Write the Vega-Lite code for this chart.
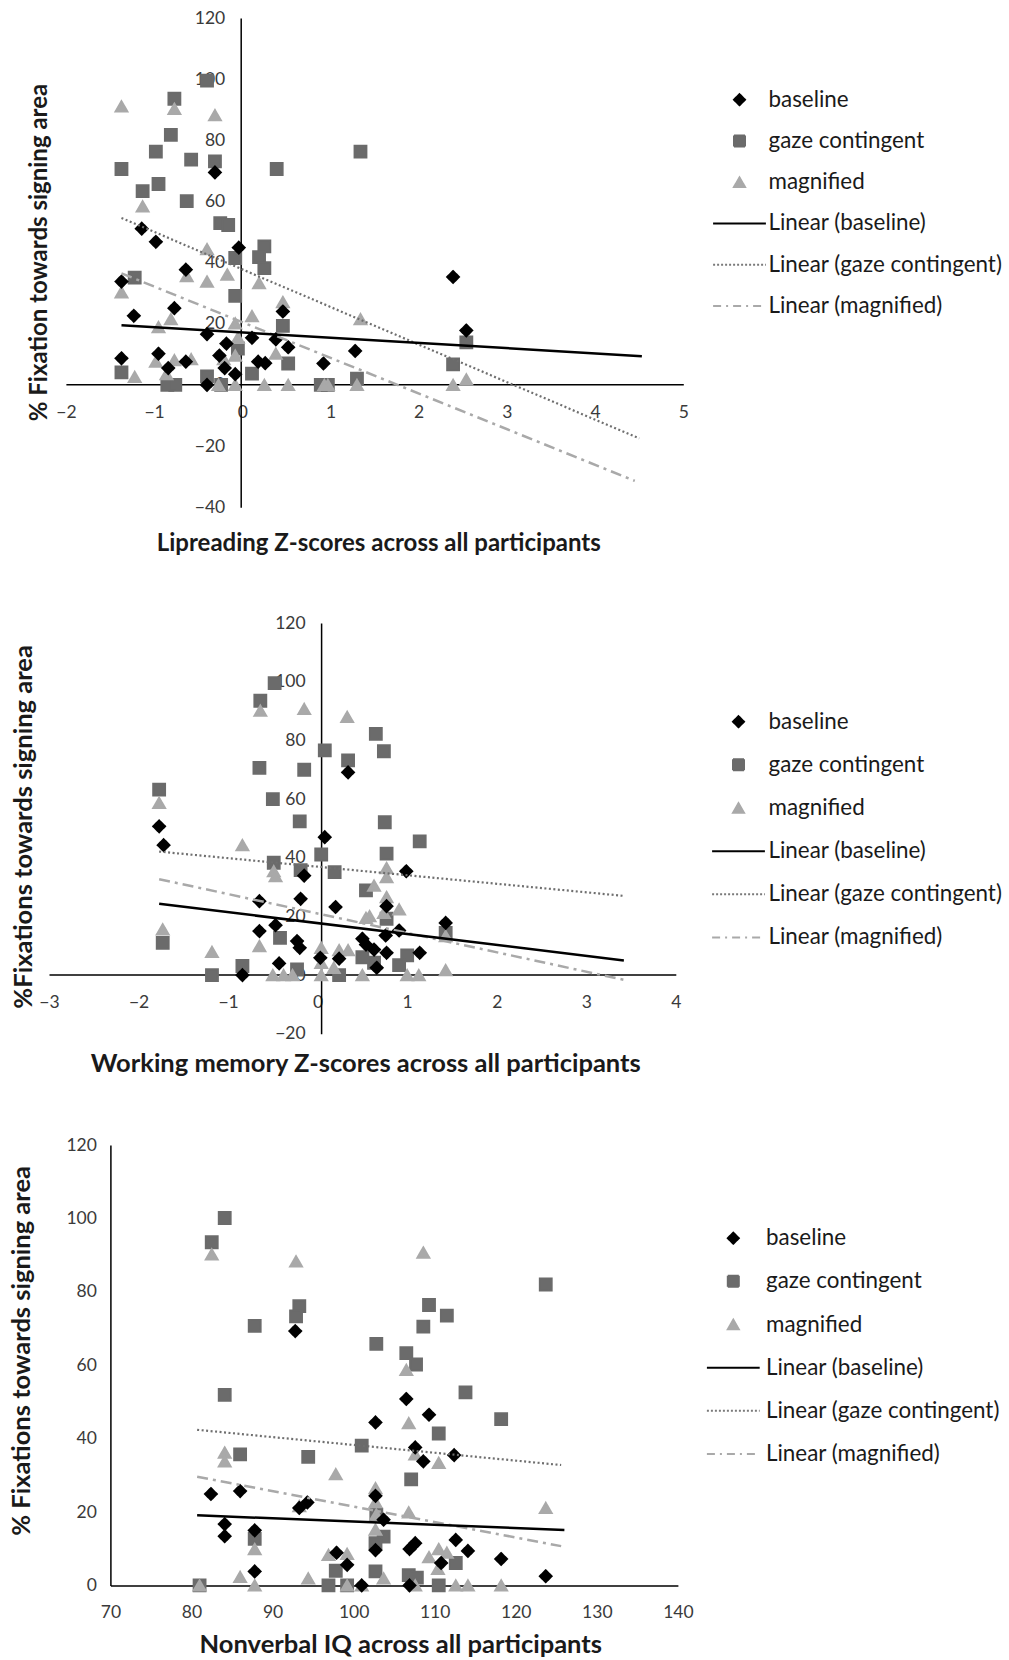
{
  "$schema": "https://vega.github.io/schema/vega-lite/v6.json",
  "autosize": {"type": "pad"},
  "padding": {"left": 9, "top": 9, "right": 0, "bottom": 0},
  "background": "white",
  "config": {
    "view": {"stroke": null},
    "font": "Lato",
    "axis": {"labelFont": "Lato", "labelFontSize": 17.5, "labelColor": "#3a3a3a", "titleFont": "Lato", "titleFontWeight": "bold", "titleColor": "#1a1a1a", "ticks": false, "grid": false, "domainColor": "#000000", "domainWidth": 1.5, "labelFlush": false, "labelOverlap": false},
    "legend": {"title": null, "orient": "none", "symbolSize": 121, "labelFont": "Lato", "labelFontSize": 22.4, "labelColor": "#1a1a1a", "padding": 0, "symbolStrokeWidth": 2, "symbolOpacity": 1, "labelLimit": 0}
  },
  "datasets": {
    "p1": [
      {"x": -0.40, "y": 99.5, "series": "gaze contingent"}, {"x": -0.77, "y": 93.6, "series": "gaze contingent"}, {"x": -0.81, "y": 81.8, "series": "gaze contingent"}, {"x": -0.98, "y": 76.3, "series": "gaze contingent"}, {"x": -0.58, "y": 73.7, "series": "gaze contingent"}, {"x": -0.31, "y": 73.1, "series": "gaze contingent"}, {"x": -1.37, "y": 70.6, "series": "gaze contingent"}, {"x": 0.39, "y": 70.6, "series": "gaze contingent"}, {"x": 1.34, "y": 76.3, "series": "gaze contingent"}, {"x": -0.95, "y": 65.7, "series": "gaze contingent"}, {"x": -1.13, "y": 63.4, "series": "gaze contingent"}, {"x": -0.63, "y": 60.1, "series": "gaze contingent"}, {"x": -0.25, "y": 52.9, "series": "gaze contingent"}, {"x": -0.16, "y": 52.3, "series": "gaze contingent"}, {"x": 0.25, "y": 45.3, "series": "gaze contingent"}, {"x": 0.19, "y": 41.8, "series": "gaze contingent"}, {"x": -0.08, "y": 41.5, "series": "gaze contingent"}, {"x": 0.25, "y": 38.2, "series": "gaze contingent"}, {"x": -1.22, "y": 35.1, "series": "gaze contingent"}, {"x": -0.08, "y": 29.1, "series": "gaze contingent"}, {"x": 0.46, "y": 19.3, "series": "gaze contingent"}, {"x": 2.54, "y": 13.9, "series": "gaze contingent"}, {"x": 2.39, "y": 6.7, "series": "gaze contingent"}, {"x": -1.37, "y": 4.1, "series": "gaze contingent"}, {"x": -0.40, "y": 2.8, "series": "gaze contingent"}, {"x": 0.11, "y": 3.7, "series": "gaze contingent"}, {"x": 0.52, "y": 7.0, "series": "gaze contingent"}, {"x": -0.05, "y": 11.9, "series": "gaze contingent"}, {"x": -0.85, "y": 0, "series": "gaze contingent"}, {"x": -0.76, "y": 0, "series": "gaze contingent"}, {"x": -0.24, "y": 0, "series": "gaze contingent"}, {"x": 0.89, "y": 0, "series": "gaze contingent"}, {"x": 0.97, "y": 0, "series": "gaze contingent"}, {"x": 1.30, "y": 2.0, "series": "gaze contingent"},
      {"x": -1.37, "y": 91.1, "series": "magnified"}, {"x": -0.77, "y": 90.3, "series": "magnified"}, {"x": -0.31, "y": 88.2, "series": "magnified"}, {"x": -1.13, "y": 58.4, "series": "magnified"}, {"x": -0.40, "y": 44.4, "series": "magnified"}, {"x": -0.17, "y": 36.1, "series": "magnified"}, {"x": -0.63, "y": 35.6, "series": "magnified"}, {"x": -0.40, "y": 33.8, "series": "magnified"}, {"x": 0.19, "y": 33.3, "series": "magnified"}, {"x": -1.37, "y": 30.3, "series": "magnified"}, {"x": 0.46, "y": 27.1, "series": "magnified"}, {"x": -0.81, "y": 21.5, "series": "magnified"}, {"x": 0.11, "y": 22.5, "series": "magnified"}, {"x": -0.08, "y": 20.1, "series": "magnified"}, {"x": 1.34, "y": 21.5, "series": "magnified"}, {"x": -0.95, "y": 18.9, "series": "magnified"}, {"x": 0.38, "y": 10.2, "series": "magnified"}, {"x": -0.05, "y": 15.4, "series": "magnified"}, {"x": -0.98, "y": 7.6, "series": "magnified"}, {"x": -0.77, "y": 8.1, "series": "magnified"}, {"x": -0.58, "y": 8.4, "series": "magnified"}, {"x": -0.21, "y": 8.4, "series": "magnified"}, {"x": -0.08, "y": 9.6, "series": "magnified"}, {"x": -1.22, "y": 2.6, "series": "magnified"}, {"x": -0.86, "y": 3.5, "series": "magnified"}, {"x": -0.27, "y": 0, "series": "magnified"}, {"x": -0.08, "y": 0, "series": "magnified"}, {"x": 0.25, "y": 0, "series": "magnified"}, {"x": 0.52, "y": 0, "series": "magnified"}, {"x": 0.97, "y": 0, "series": "magnified"}, {"x": 1.30, "y": 0, "series": "magnified"}, {"x": 2.39, "y": 0, "series": "magnified"}, {"x": 2.54, "y": 1.8, "series": "magnified"}, {"x": 0.93, "y": 0, "series": "magnified"},
      {"x": -0.31, "y": 69.5, "series": "baseline"}, {"x": -1.14, "y": 51.1, "series": "baseline"}, {"x": -0.98, "y": 46.8, "series": "baseline"}, {"x": -0.04, "y": 44.9, "series": "baseline"}, {"x": -0.64, "y": 37.7, "series": "baseline"}, {"x": -1.37, "y": 33.8, "series": "baseline"}, {"x": 2.39, "y": 35.3, "series": "baseline"}, {"x": -0.77, "y": 25.1, "series": "baseline"}, {"x": -1.23, "y": 22.6, "series": "baseline"}, {"x": 0.46, "y": 24.0, "series": "baseline"}, {"x": 2.54, "y": 17.8, "series": "baseline"}, {"x": -0.40, "y": 16.6, "series": "baseline"}, {"x": 0.11, "y": 15.4, "series": "baseline"}, {"x": 0.38, "y": 14.9, "series": "baseline"}, {"x": -0.18, "y": 13.5, "series": "baseline"}, {"x": 0.52, "y": 12.3, "series": "baseline"}, {"x": 1.28, "y": 11.1, "series": "baseline"}, {"x": -1.37, "y": 8.7, "series": "baseline"}, {"x": -0.95, "y": 10.2, "series": "baseline"}, {"x": -0.26, "y": 9.6, "series": "baseline"}, {"x": 0.18, "y": 7.6, "series": "baseline"}, {"x": 0.26, "y": 7.1, "series": "baseline"}, {"x": 0.92, "y": 7.0, "series": "baseline"}, {"x": -0.20, "y": 5.5, "series": "baseline"}, {"x": -0.84, "y": 5.5, "series": "baseline"}, {"x": -0.08, "y": 3.5, "series": "baseline"}, {"x": -0.40, "y": 0, "series": "baseline"}, {"x": -0.64, "y": 7.6, "series": "baseline"}
    ],
    "l1": [
      {"x": -1.37, "y": 19.5, "series": "Linear (baseline)"}, {"x": 4.53, "y": 9.4, "series": "Linear (baseline)"},
      {"x": -1.37, "y": 54.6, "series": "Linear (gaze contingent)"}, {"x": 4.50, "y": -17.5, "series": "Linear (gaze contingent)"},
      {"x": -1.37, "y": 36.5, "series": "Linear (magnified)"}, {"x": 4.45, "y": -31.4, "series": "Linear (magnified)"}
    ],
    "p2": [
      {"x": -0.48, "y": 99.5, "series": "gaze contingent"}, {"x": -0.64, "y": 93.5, "series": "gaze contingent"}, {"x": -0.65, "y": 70.6, "series": "gaze contingent"}, {"x": -0.15, "y": 70.0, "series": "gaze contingent"}, {"x": 0.08, "y": 76.6, "series": "gaze contingent"}, {"x": 0.34, "y": 73.2, "series": "gaze contingent"}, {"x": 0.65, "y": 82.2, "series": "gaze contingent"}, {"x": 0.74, "y": 76.3, "series": "gaze contingent"}, {"x": -1.77, "y": 63.2, "series": "gaze contingent"}, {"x": -0.50, "y": 60.0, "series": "gaze contingent"}, {"x": -0.20, "y": 52.4, "series": "gaze contingent"}, {"x": 0.75, "y": 52.1, "series": "gaze contingent"}, {"x": 1.14, "y": 45.6, "series": "gaze contingent"}, {"x": 0.04, "y": 41.1, "series": "gaze contingent"}, {"x": 0.77, "y": 41.4, "series": "gaze contingent"}, {"x": -0.49, "y": 38.3, "series": "gaze contingent"}, {"x": -0.19, "y": 35.8, "series": "gaze contingent"}, {"x": 0.19, "y": 35.1, "series": "gaze contingent"}, {"x": 0.54, "y": 28.9, "series": "gaze contingent"}, {"x": 0.77, "y": 19.2, "series": "gaze contingent"}, {"x": 1.43, "y": 14.4, "series": "gaze contingent"}, {"x": -1.73, "y": 11.0, "series": "gaze contingent"}, {"x": -0.42, "y": 12.7, "series": "gaze contingent"}, {"x": 0.50, "y": 6.1, "series": "gaze contingent"}, {"x": 0.63, "y": 4.2, "series": "gaze contingent"}, {"x": 1.00, "y": 6.7, "series": "gaze contingent"}, {"x": 0.91, "y": 3.4, "series": "gaze contingent"}, {"x": -0.84, "y": 3.1, "series": "gaze contingent"}, {"x": -1.18, "y": 0, "series": "gaze contingent"}, {"x": -0.23, "y": 1.9, "series": "gaze contingent"}, {"x": 0.24, "y": 0, "series": "gaze contingent"},
      {"x": -0.64, "y": 90.1, "series": "magnified"}, {"x": -0.15, "y": 90.7, "series": "magnified"}, {"x": 0.33, "y": 88.0, "series": "magnified"}, {"x": -1.77, "y": 58.7, "series": "magnified"}, {"x": -0.84, "y": 44.3, "series": "magnified"}, {"x": -0.49, "y": 35.4, "series": "magnified"}, {"x": -0.47, "y": 33.7, "series": "magnified"}, {"x": 0.77, "y": 36.5, "series": "magnified"}, {"x": 0.77, "y": 33.4, "series": "magnified"}, {"x": 0.63, "y": 30.5, "series": "magnified"}, {"x": 0.77, "y": 26.6, "series": "magnified"}, {"x": 0.91, "y": 22.4, "series": "magnified"}, {"x": 0.74, "y": 21.2, "series": "magnified"}, {"x": 0.58, "y": 20.1, "series": "magnified"}, {"x": 0.54, "y": 19.5, "series": "magnified"}, {"x": -1.73, "y": 15.6, "series": "magnified"}, {"x": 1.43, "y": 13.3, "series": "magnified"}, {"x": -0.65, "y": 9.9, "series": "magnified"}, {"x": -1.18, "y": 7.9, "series": "magnified"}, {"x": 0.04, "y": 9.3, "series": "magnified"}, {"x": 0.24, "y": 8.5, "series": "magnified"}, {"x": 0.34, "y": 8.5, "series": "magnified"}, {"x": 0.04, "y": 4.2, "series": "magnified"}, {"x": 0.18, "y": 2.5, "series": "magnified"}, {"x": 1.43, "y": 1.7, "series": "magnified"}, {"x": -0.50, "y": 0, "series": "magnified"}, {"x": -0.38, "y": 0, "series": "magnified"}, {"x": -0.28, "y": 0, "series": "magnified"}, {"x": 0.04, "y": 0, "series": "magnified"}, {"x": 0.50, "y": 0, "series": "magnified"}, {"x": 1.00, "y": 0, "series": "magnified"}, {"x": 1.13, "y": 0, "series": "magnified"},
      {"x": 0.34, "y": 69.1, "series": "baseline"}, {"x": -1.77, "y": 50.7, "series": "baseline"}, {"x": -1.72, "y": 44.3, "series": "baseline"}, {"x": 0.08, "y": 47.0, "series": "baseline"}, {"x": 0.99, "y": 35.4, "series": "baseline"}, {"x": -0.15, "y": 33.9, "series": "baseline"}, {"x": -0.65, "y": 25.2, "series": "baseline"}, {"x": -0.19, "y": 26.0, "series": "baseline"}, {"x": 0.20, "y": 23.2, "series": "baseline"}, {"x": 0.77, "y": 23.5, "series": "baseline"}, {"x": -0.47, "y": 17.0, "series": "baseline"}, {"x": -0.65, "y": 15.0, "series": "baseline"}, {"x": 1.43, "y": 17.8, "series": "baseline"}, {"x": 0.91, "y": 15.2, "series": "baseline"}, {"x": 0.76, "y": 13.5, "series": "baseline"}, {"x": 0.50, "y": 12.4, "series": "baseline"}, {"x": 0.54, "y": 10.4, "series": "baseline"}, {"x": -0.23, "y": 11.6, "series": "baseline"}, {"x": -0.20, "y": 9.3, "series": "baseline"}, {"x": 0.63, "y": 8.7, "series": "baseline"}, {"x": 0.77, "y": 7.6, "series": "baseline"}, {"x": 1.14, "y": 7.6, "series": "baseline"}, {"x": 0.24, "y": 5.6, "series": "baseline"}, {"x": 0.03, "y": 5.9, "series": "baseline"}, {"x": -0.43, "y": 4.0, "series": "baseline"}, {"x": 0.66, "y": 2.5, "series": "baseline"}, {"x": -0.84, "y": 0, "series": "baseline"}
    ],
    "l2": [
      {"x": -1.77, "y": 24.3, "series": "Linear (baseline)"}, {"x": 3.42, "y": 5.0, "series": "Linear (baseline)"},
      {"x": -1.77, "y": 42.1, "series": "Linear (gaze contingent)"}, {"x": 3.42, "y": 27.0, "series": "Linear (gaze contingent)"},
      {"x": -1.77, "y": 32.7, "series": "Linear (magnified)"}, {"x": 3.42, "y": -1.6, "series": "Linear (magnified)"}
    ],
    "p3": [
      {"x": 84.1, "y": 100.1, "series": "gaze contingent"}, {"x": 82.5, "y": 93.5, "series": "gaze contingent"}, {"x": 93.3, "y": 76.1, "series": "gaze contingent"}, {"x": 92.9, "y": 73.3, "series": "gaze contingent"}, {"x": 87.8, "y": 70.7, "series": "gaze contingent"}, {"x": 102.8, "y": 65.8, "series": "gaze contingent"}, {"x": 106.5, "y": 63.3, "series": "gaze contingent"}, {"x": 107.7, "y": 60.2, "series": "gaze contingent"}, {"x": 109.3, "y": 76.4, "series": "gaze contingent"}, {"x": 111.5, "y": 73.5, "series": "gaze contingent"}, {"x": 108.6, "y": 70.5, "series": "gaze contingent"}, {"x": 123.7, "y": 82.0, "series": "gaze contingent"}, {"x": 84.1, "y": 51.9, "series": "gaze contingent"}, {"x": 113.8, "y": 52.6, "series": "gaze contingent"}, {"x": 118.2, "y": 45.3, "series": "gaze contingent"}, {"x": 110.5, "y": 41.4, "series": "gaze contingent"}, {"x": 101.0, "y": 38.1, "series": "gaze contingent"}, {"x": 86.0, "y": 35.7, "series": "gaze contingent"}, {"x": 94.4, "y": 35.0, "series": "gaze contingent"}, {"x": 107.1, "y": 28.9, "series": "gaze contingent"}, {"x": 102.8, "y": 19.3, "series": "gaze contingent"}, {"x": 103.7, "y": 13.3, "series": "gaze contingent"}, {"x": 102.7, "y": 11.5, "series": "gaze contingent"}, {"x": 87.8, "y": 12.7, "series": "gaze contingent"}, {"x": 97.8, "y": 4.0, "series": "gaze contingent"}, {"x": 102.7, "y": 3.8, "series": "gaze contingent"}, {"x": 106.8, "y": 2.8, "series": "gaze contingent"}, {"x": 107.8, "y": 2.1, "series": "gaze contingent"}, {"x": 112.6, "y": 6.1, "series": "gaze contingent"}, {"x": 81.0, "y": 0, "series": "gaze contingent"}, {"x": 96.9, "y": 0, "series": "gaze contingent"}, {"x": 99.2, "y": 0, "series": "gaze contingent"}, {"x": 110.5, "y": 0, "series": "gaze contingent"},
      {"x": 82.5, "y": 90.2, "series": "magnified"}, {"x": 92.9, "y": 88.3, "series": "magnified"}, {"x": 108.6, "y": 90.7, "series": "magnified"}, {"x": 106.5, "y": 58.7, "series": "magnified"}, {"x": 106.8, "y": 44.2, "series": "magnified"}, {"x": 84.1, "y": 36.2, "series": "magnified"}, {"x": 84.1, "y": 33.8, "series": "magnified"}, {"x": 107.6, "y": 35.7, "series": "magnified"}, {"x": 110.5, "y": 33.4, "series": "magnified"}, {"x": 97.8, "y": 30.3, "series": "magnified"}, {"x": 102.7, "y": 26.5, "series": "magnified"}, {"x": 102.7, "y": 22.7, "series": "magnified"}, {"x": 93.3, "y": 21.6, "series": "magnified"}, {"x": 123.7, "y": 21.1, "series": "magnified"}, {"x": 106.8, "y": 19.9, "series": "magnified"}, {"x": 102.8, "y": 19.3, "series": "magnified"}, {"x": 102.7, "y": 15.2, "series": "magnified"}, {"x": 87.8, "y": 9.9, "series": "magnified"}, {"x": 96.9, "y": 8.3, "series": "magnified"}, {"x": 99.2, "y": 8.6, "series": "magnified"}, {"x": 109.3, "y": 7.7, "series": "magnified"}, {"x": 110.5, "y": 9.9, "series": "magnified"}, {"x": 111.5, "y": 8.9, "series": "magnified"}, {"x": 110.4, "y": 4.5, "series": "magnified"}, {"x": 86.0, "y": 2.3, "series": "magnified"}, {"x": 94.4, "y": 1.9, "series": "magnified"}, {"x": 103.7, "y": 1.9, "series": "magnified"}, {"x": 81.0, "y": 0, "series": "magnified"}, {"x": 87.8, "y": 0, "series": "magnified"}, {"x": 99.2, "y": 0, "series": "magnified"}, {"x": 101.0, "y": 0, "series": "magnified"}, {"x": 107.6, "y": 0, "series": "magnified"}, {"x": 112.6, "y": 0, "series": "magnified"}, {"x": 114.1, "y": 0, "series": "magnified"}, {"x": 118.2, "y": 0, "series": "magnified"},
      {"x": 92.8, "y": 69.3, "series": "baseline"}, {"x": 106.5, "y": 50.8, "series": "baseline"}, {"x": 109.3, "y": 46.5, "series": "baseline"}, {"x": 102.7, "y": 44.4, "series": "baseline"}, {"x": 107.6, "y": 37.6, "series": "baseline"}, {"x": 112.4, "y": 35.5, "series": "baseline"}, {"x": 108.6, "y": 33.8, "series": "baseline"}, {"x": 86.0, "y": 25.7, "series": "baseline"}, {"x": 82.4, "y": 24.9, "series": "baseline"}, {"x": 102.7, "y": 24.4, "series": "baseline"}, {"x": 94.3, "y": 22.6, "series": "baseline"}, {"x": 93.3, "y": 21.1, "series": "baseline"}, {"x": 103.7, "y": 17.9, "series": "baseline"}, {"x": 84.1, "y": 16.7, "series": "baseline"}, {"x": 84.1, "y": 13.4, "series": "baseline"}, {"x": 87.8, "y": 15.0, "series": "baseline"}, {"x": 112.6, "y": 12.4, "series": "baseline"}, {"x": 107.6, "y": 11.5, "series": "baseline"}, {"x": 106.9, "y": 9.9, "series": "baseline"}, {"x": 114.1, "y": 9.4, "series": "baseline"}, {"x": 97.9, "y": 8.9, "series": "baseline"}, {"x": 102.7, "y": 9.6, "series": "baseline"}, {"x": 99.2, "y": 5.6, "series": "baseline"}, {"x": 110.8, "y": 6.1, "series": "baseline"}, {"x": 118.2, "y": 7.2, "series": "baseline"}, {"x": 87.8, "y": 3.8, "series": "baseline"}, {"x": 123.7, "y": 2.5, "series": "baseline"}, {"x": 101.0, "y": 0, "series": "baseline"}, {"x": 106.9, "y": 0, "series": "baseline"}
    ],
    "l3": [
      {"x": 80.7, "y": 19.1, "series": "Linear (baseline)"}, {"x": 126.0, "y": 15.1, "series": "Linear (baseline)"},
      {"x": 80.7, "y": 42.4, "series": "Linear (gaze contingent)"}, {"x": 125.6, "y": 32.8, "series": "Linear (gaze contingent)"},
      {"x": 80.7, "y": 29.6, "series": "Linear (magnified)"}, {"x": 125.6, "y": 10.7, "series": "Linear (magnified)"}
    ]
  },
  "spacing": 59,
  "resolve": {"scale": {"color": "independent", "stroke": "independent", "shape": "independent", "strokeDash": "independent"}},
  "vconcat": [
    {
      "width": 634.3,
      "height": 489.2,
      "encoding": {
        "x": {"field": "x", "type": "quantitative", "scale": {"domain": [-2, 5], "range": [16.9, 634.3], "nice": false, "zero": false},
          "axis": {"title": "Lipreading Z-scores across all participants", "values": [-2, -1, 0, 1, 2, 3, 4, 5], "offset": -122.9, "labelPadding": 19, "titleFontSize": 24, "titleX": 329.3, "titleY": 158.7, "titleBaseline": "middle"}},
        "y": {"field": "y", "type": "quantitative", "scale": {"domain": [-40, 120], "nice": false, "zero": false},
          "axis": {"title": "% Fixation towards signing area", "values": [-40, -20, 0, 20, 40, 60, 80, 100, 120], "offset": -191.7, "labelPadding": 16, "titleFontSize": 24, "titleAngle": 270, "titleBaseline": "middle", "titleX": -201.4, "titleY": 234}}
      },
      "layer": [
        {
          "data": {"name": "p1"},
          "mark": {"type": "point", "filled": true, "size": 140, "strokeWidth": 2, "opacity": 1},
          "encoding": {
            "color": {"field": "series", "type": "nominal", "scale": {"domain": ["baseline", "gaze contingent", "magnified", "Linear (baseline)", "Linear (gaze contingent)", "Linear (magnified)"], "range": ["#000000", "#6b6b6b", "#a9a9a9", "#000000", "#7a7a7a", "#a9a9a9"]},
              "legend": {"legendX": 679.3, "legendY": 70.5, "rowPadding": 18.25, "labelOffset": 17.8}},
            "stroke": {"field": "series", "type": "nominal", "scale": {"domain": ["baseline", "gaze contingent", "magnified", "Linear (baseline)", "Linear (gaze contingent)", "Linear (magnified)"], "range": ["#000000", "#6b6b6b", "#a9a9a9", "#000000", "#7a7a7a", "#a9a9a9"]}},
            "shape": {"field": "series", "type": "nominal", "scale": {"domain": ["baseline", "gaze contingent", "magnified", "Linear (baseline)", "Linear (gaze contingent)", "Linear (magnified)"], "range": ["diamond", "square", "triangle-up", "M-4.8,0L4.8,0", "M-4.8,0L4.8,0", "M-4.8,0L4.8,0"]}},
            "strokeDash": {"field": "series", "type": "nominal", "scale": {"domain": ["baseline", "gaze contingent", "magnified", "Linear (baseline)", "Linear (gaze contingent)", "Linear (magnified)"], "range": [[1, 0], [1, 0], [1, 0], [1, 0], [2, 2], [8, 5, 2, 5]]}}
          }
        },
        {"data": {"name": "l1"}, "transform": [{"filter": {"field": "series", "equal": "Linear (gaze contingent)"}}], "mark": {"type": "line", "color": "#6f6f6f", "strokeWidth": 2.2, "strokeDash": [2, 2.5]}, "encoding": {}},
        {"data": {"name": "l1"}, "transform": [{"filter": {"field": "series", "equal": "Linear (magnified)"}}], "mark": {"type": "line", "color": "#a9a9a9", "strokeWidth": 2.5, "strokeDash": [11, 5, 3, 5]}, "encoding": {}},
        {"data": {"name": "l1"}, "transform": [{"filter": {"field": "series", "equal": "Linear (baseline)"}}], "mark": {"type": "line", "color": "#000000", "strokeWidth": 2.5}, "encoding": {}}
      ]
    },
    {
      "width": 626.8,
      "height": 410.8,
      "encoding": {
        "x": {"field": "x", "type": "quantitative", "scale": {"domain": [-3, 4], "range": [0, 626.8], "nice": false, "zero": false},
          "axis": {"title": "Working memory Z-scores across all participants", "values": [-3, -2, -1, 0, 1, 2, 3, 4], "offset": -59.4, "labelPadding": 19, "titleFontSize": 25.5, "titleX": 316.3, "titleY": 89, "titleBaseline": "middle"}},
        "y": {"field": "y", "type": "quantitative", "scale": {"domain": [-20, 120], "nice": false, "zero": false},
          "axis": {"title": "%Fixations towards signing area", "values": [-20, 0, 20, 40, 60, 80, 100, 120], "offset": -272.1, "labelPadding": 16, "titleFontSize": 25.5, "titleAngle": 270, "titleBaseline": "middle", "titleX": -297.8, "titleY": 203.4}}
      },
      "layer": [
        {
          "data": {"name": "p2"},
          "mark": {"type": "point", "filled": true, "size": 140, "strokeWidth": 2, "opacity": 1},
          "encoding": {
            "color": {"field": "series", "type": "nominal", "scale": {"domain": ["baseline", "gaze contingent", "magnified", "Linear (baseline)", "Linear (gaze contingent)", "Linear (magnified)"], "range": ["#000000", "#6b6b6b", "#a9a9a9", "#000000", "#7a7a7a", "#a9a9a9"]},
              "legend": {"legendX": 678.3, "legendY": 87.5, "rowPadding": 20.15, "labelOffset": 18.8}},
            "stroke": {"field": "series", "type": "nominal", "scale": {"domain": ["baseline", "gaze contingent", "magnified", "Linear (baseline)", "Linear (gaze contingent)", "Linear (magnified)"], "range": ["#000000", "#6b6b6b", "#a9a9a9", "#000000", "#7a7a7a", "#a9a9a9"]}},
            "shape": {"field": "series", "type": "nominal", "scale": {"domain": ["baseline", "gaze contingent", "magnified", "Linear (baseline)", "Linear (gaze contingent)", "Linear (magnified)"], "range": ["diamond", "square", "triangle-up", "M-4.8,0L4.8,0", "M-4.8,0L4.8,0", "M-4.8,0L4.8,0"]}},
            "strokeDash": {"field": "series", "type": "nominal", "scale": {"domain": ["baseline", "gaze contingent", "magnified", "Linear (baseline)", "Linear (gaze contingent)", "Linear (magnified)"], "range": [[1, 0], [1, 0], [1, 0], [1, 0], [2, 2], [8, 5, 2, 5]]}}
          }
        },
        {"data": {"name": "l2"}, "transform": [{"filter": {"field": "series", "equal": "Linear (gaze contingent)"}}], "mark": {"type": "line", "color": "#6f6f6f", "strokeWidth": 2.2, "strokeDash": [2, 2.5]}, "encoding": {}},
        {"data": {"name": "l2"}, "transform": [{"filter": {"field": "series", "equal": "Linear (magnified)"}}], "mark": {"type": "line", "color": "#a9a9a9", "strokeWidth": 2.5, "strokeDash": [11, 5, 3, 5]}, "encoding": {}},
        {"data": {"name": "l2"}, "transform": [{"filter": {"field": "series", "equal": "Linear (baseline)"}}], "mark": {"type": "line", "color": "#000000", "strokeWidth": 2.5}, "encoding": {}}
      ]
    },
    {
      "width": 628.9,
      "height": 440.4,
      "encoding": {
        "x": {"field": "x", "type": "quantitative", "scale": {"domain": [70, 140], "range": [61.4, 628.9], "nice": false, "zero": false},
          "axis": {"title": "Nonverbal IQ across all participants", "values": [70, 80, 90, 100, 110, 120, 130, 140], "labelPadding": 18, "titleFontSize": 25.5, "titleX": 351.3, "titleY": 59, "titleBaseline": "middle"}},
        "y": {"field": "y", "type": "quantitative", "scale": {"domain": [0, 120], "nice": false, "zero": false},
          "axis": {"title": "% Fixations towards signing area", "values": [0, 20, 40, 60, 80, 100, 120], "offset": -61.4, "labelPadding": 14, "titleFontSize": 25.5, "titleAngle": 270, "titleBaseline": "middle", "titleX": -89.1, "titleY": 205.4}}
      },
      "layer": [
        {
          "data": {"name": "p3"},
          "mark": {"type": "point", "filled": true, "size": 140, "strokeWidth": 2, "opacity": 1},
          "encoding": {
            "color": {"field": "series", "type": "nominal", "scale": {"domain": ["baseline", "gaze contingent", "magnified", "Linear (baseline)", "Linear (gaze contingent)", "Linear (magnified)"], "range": ["#000000", "#6b6b6b", "#a9a9a9", "#000000", "#7a7a7a", "#a9a9a9"]},
              "legend": {"legendX": 673.1, "legendY": 82, "rowPadding": 20.15, "labelOffset": 21.5}},
            "stroke": {"field": "series", "type": "nominal", "scale": {"domain": ["baseline", "gaze contingent", "magnified", "Linear (baseline)", "Linear (gaze contingent)", "Linear (magnified)"], "range": ["#000000", "#6b6b6b", "#a9a9a9", "#000000", "#7a7a7a", "#a9a9a9"]}},
            "shape": {"field": "series", "type": "nominal", "scale": {"domain": ["baseline", "gaze contingent", "magnified", "Linear (baseline)", "Linear (gaze contingent)", "Linear (magnified)"], "range": ["diamond", "square", "triangle-up", "M-4.8,0L4.8,0", "M-4.8,0L4.8,0", "M-4.8,0L4.8,0"]}},
            "strokeDash": {"field": "series", "type": "nominal", "scale": {"domain": ["baseline", "gaze contingent", "magnified", "Linear (baseline)", "Linear (gaze contingent)", "Linear (magnified)"], "range": [[1, 0], [1, 0], [1, 0], [1, 0], [2, 2], [8, 5, 2, 5]]}}
          }
        },
        {"data": {"name": "l3"}, "transform": [{"filter": {"field": "series", "equal": "Linear (gaze contingent)"}}], "mark": {"type": "line", "color": "#6f6f6f", "strokeWidth": 2.2, "strokeDash": [2, 2.5]}, "encoding": {}},
        {"data": {"name": "l3"}, "transform": [{"filter": {"field": "series", "equal": "Linear (magnified)"}}], "mark": {"type": "line", "color": "#a9a9a9", "strokeWidth": 2.5, "strokeDash": [11, 5, 3, 5]}, "encoding": {}},
        {"data": {"name": "l3"}, "transform": [{"filter": {"field": "series", "equal": "Linear (baseline)"}}], "mark": {"type": "line", "color": "#000000", "strokeWidth": 2.5}, "encoding": {}}
      ]
    }
  ]
}
